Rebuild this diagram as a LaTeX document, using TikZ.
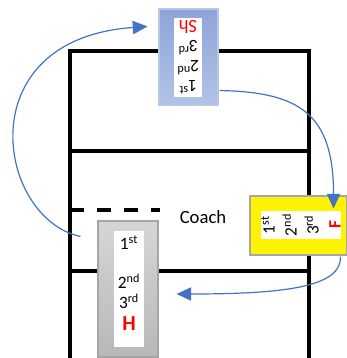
\documentclass[tikz,border=0pt]{standalone}
\usepackage{fontspec}
\setmainfont{Carlito}
\usetikzlibrary{arrows.meta}

\definecolor{shtop}{HTML}{8EA4D8}
\definecolor{shbot}{HTML}{B2C3E8}
\definecolor{shedge}{HTML}{B4C7E7}
\definecolor{hattop}{HTML}{D6D6D6}
\definecolor{hatbot}{HTML}{B8B8B8}
\definecolor{greyedge}{HTML}{A6A6A6}
\definecolor{linkblue}{HTML}{4472C4}

\begin{document}
\begin{tikzpicture}[
  x=0.75pt, y=-0.75pt,
  font=\fontsize{13}{14.5}\selectfont,
  field/.style={draw=black, line width=2.4pt},
  gap/.style={field, dash pattern=on 10.5pt off 9.75pt},
  outerbox/.style={rectangle, line width=0.8pt, inner sep=0pt},
  shbox/.style={outerbox, draw=shedge, top color=shtop, bottom color=shbot},
  fbox/.style={outerbox, draw=greyedge, fill=yellow},
  hbox/.style={outerbox, draw=greyedge, top color=hattop, bottom color=hatbot},
  slot/.style={rectangle, fill=white, align=center, inner sep=0pt},
  link/.style={draw=linkblue, line width=0.9pt,
               -{Triangle[length=11pt,width=10pt]}},
]

% --- fixed bounding box (white background) ---
\fill[white] (0,0) rectangle (347,358);
\useasboundingbox (0,0) rectangle (347,358);

% --- the court ---
\draw[field] (70,358) -- (70,51) -- (309,51) -- (309,358);
\draw[field] (70,151) -- (309,151);
\draw[field] (70,271) -- (309,271);
\draw[gap]   (70,210) -- (160,210);

% ============================ NODES =================================
% top: Sh (upside down)
\node[shbox, minimum width=44.25pt, minimum height=72pt] (sh) at (188.5,57) {};
\node[slot, minimum width=21pt, minimum height=59.25pt, rotate=180,
      font=\fontsize{13}{15}\selectfont] (shtxt) at (188,57.5)
  {1\textsuperscript{st}\\2\textsuperscript{nd}\\3\textsuperscript{rd}\\
   {\fontsize{14}{15}\selectfont\color{red}Sh}};

% right: F (turned a quarter)
\node[fbox, minimum width=72.75pt, minimum height=44.25pt] (f) at (298.5,225.5) {};
\node[slot, minimum width=21pt, minimum height=60pt, rotate=90,
      font=\fontsize{13}{16.5}\selectfont] (ftxt) at (301,225)
  {1\textsuperscript{st}\\2\textsuperscript{nd}\\3\textsuperscript{rd}\\
   {\bfseries\color{red}F}};

% left: H
\node[hbox, minimum width=45pt, minimum height=102pt] (h) at (128,289) {};
\node[slot, minimum width=22.5pt, minimum height=87pt, text depth=9pt] (htxt) at (129,289)
  {1\textsuperscript{st}\\[15pt]2\textsuperscript{nd}\\3\textsuperscript{rd}\\[2pt]
   {\fontsize{16}{16}\selectfont\bfseries\color{red}H}};

\node[font=\fontsize{14}{15}\selectfont] (coach) at (203,217) {Coach};

% ============================ EDGES =================================
\draw[link] ([shift={(-17,16)}]h.north west)
  to[out=168, in=184, out distance=64pt, in distance=136pt]
  ([shift={(-11,18)}]sh.north west);
\draw[link] ([shift={(1,-15)}]sh.south east)
  to[out=-1, in=90, out distance=60pt, in distance=71pt]
  ([shift={(-14,13)}]f.north east);
\draw[link] ([shift={(-7,1)}]f.south east)
  to[out=-88, in=0, out distance=22pt, in distance=85pt]
  ([shift={(18,5)}]h.east);

\end{tikzpicture}
\end{document}
